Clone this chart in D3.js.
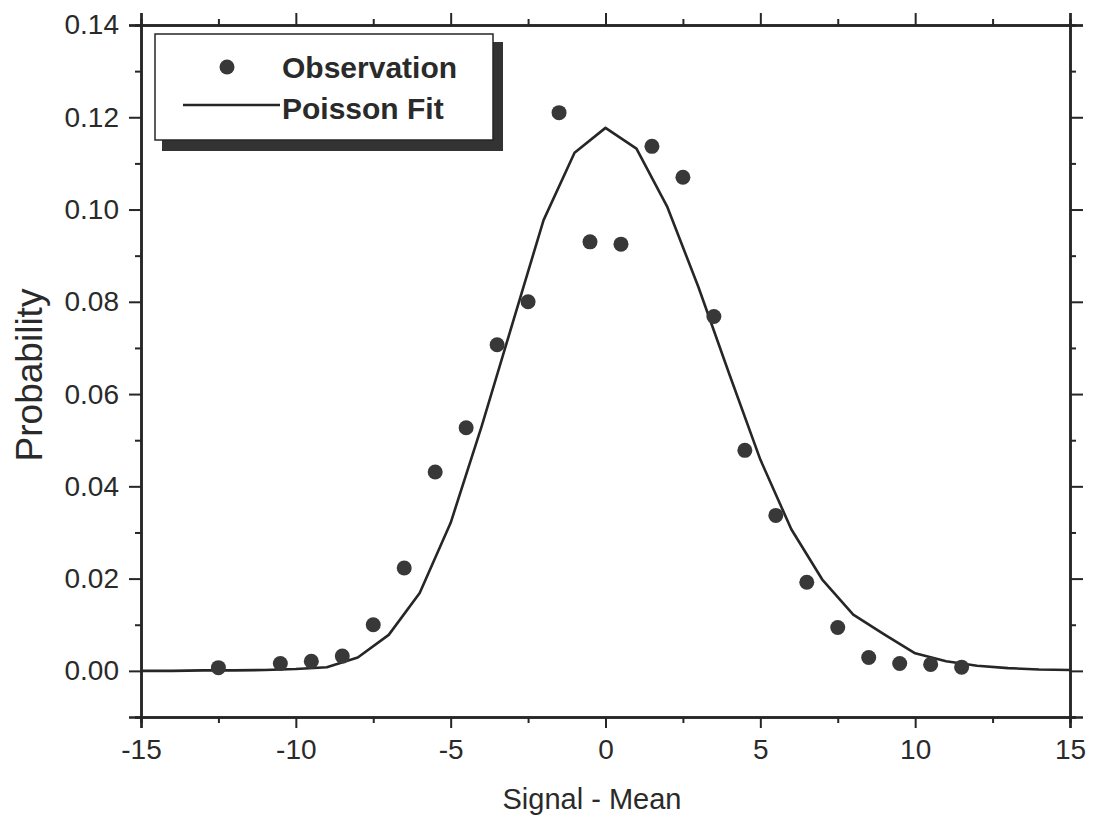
<!DOCTYPE html>
<html><head><meta charset="utf-8">
<script src="https://cdn.jsdelivr.net/npm/d3@7"></script>
<style>body{margin:0;background:#fff}svg{display:block}</style>
</head><body><svg id="c" width="1095" height="819"></svg>
<script>
// Observed probabilities
const obsX = [-12.5,-10.5,-9.5,-8.5,-7.5,-6.5,-5.5,-4.5,-3.5,-2.5,-1.5,-0.5,0.5,1.5,2.5,3.5,4.5,5.5,6.5,7.5,8.5,9.5,10.5,11.5];
const obsY = [0.0007,0.0016,0.0021,0.0032,0.0100,0.0223,0.0431,0.0527,0.0707,0.0800,0.1210,0.0930,0.0925,0.1137,0.1070,0.0768,0.0478,0.0337,0.0192,0.0094,0.0029,0.0016,0.0014,0.0008];
// Poisson fit curve
const fitX = [-15,-14,-13,-12,-11,-10,-9,-8,-7,-6,-5,-4,-3,-2,-1,0,1,2,3,4,5,6,7,8,9,10,11,12,13,14,15];
const fitY = [0,0,0.0001,0.0001,0.0002,0.0004,0.0008,0.0029,0.0078,0.0169,0.0321,0.0530,0.0754,0.0977,0.1123,0.1177,0.1132,0.1005,0.0832,0.0643,0.0458,0.0307,0.0198,0.0122,0.0079,0.0038,0.0021,0.0011,0.0006,0.0003,0.0002];
// Ticks
const xMajor = [-15,-10,-5,0,5,10,15];
const xMinor = [-12.5,-7.5,-2.5,2.5,7.5,12.5];
const yMajor = [0,0.02,0.04,0.06,0.08,0.10,0.12,0.14];
const yMinor = [-0.01,0.01,0.03,0.05,0.07,0.09,0.11,0.13];
const legendLabels = ["Observation","Poisson Fit"];

const svg = d3.select("#c");
const L=141,R=1070,T=25,B=717;
const x = d3.scaleLinear().domain([-15,15]).range([L,R]);
const y = d3.scaleLinear().domain([-0.01,0.14]).range([B,T]);
const ink = "#262626";
const font = "'Liberation Sans', Arial, sans-serif";

function styleAxis(g){
  g.select(".domain").attr("stroke",ink).attr("stroke-width",2.5);
  g.selectAll(".tick line").attr("stroke",ink).attr("stroke-width",2);
  g.selectAll(".tick text").attr("fill","#2a2a2a").style("font-family",font).style("font-size","28px");
}
// bottom
svg.append("g").attr("transform",`translate(0,${B})`)
  .call(d3.axisBottom(x).tickValues(xMinor).tickSize(6).tickFormat(""))
  .call(styleAxis);
svg.append("g").attr("transform",`translate(0,${B})`)
  .call(d3.axisBottom(x).tickValues(xMajor).tickSize(11).tickPadding(11).tickFormat(d=>String(d)))
  .call(styleAxis);
// top
svg.append("g").attr("transform",`translate(0,${T})`)
  .call(d3.axisTop(x).tickValues(xMinor).tickSize(6).tickFormat(""))
  .call(styleAxis);
svg.append("g").attr("transform",`translate(0,${T})`)
  .call(d3.axisTop(x).tickValues(xMajor).tickSize(12).tickFormat(""))
  .call(styleAxis);
// left
svg.append("g").attr("transform",`translate(${L},0)`)
  .call(d3.axisLeft(y).tickValues(yMinor).tickSize(6).tickFormat(""))
  .call(styleAxis);
svg.append("g").attr("transform",`translate(${L},0)`)
  .call(d3.axisLeft(y).tickValues(yMajor).tickSize(12).tickPadding(10).tickFormat(d3.format(".2f")))
  .call(styleAxis);
// right
svg.append("g").attr("transform",`translate(${R},0)`)
  .call(d3.axisRight(y).tickValues(yMinor).tickSize(6).tickFormat(""))
  .call(styleAxis);
svg.append("g").attr("transform",`translate(${R},0)`)
  .call(d3.axisRight(y).tickValues(yMajor).tickSize(13).tickFormat(""))
  .call(styleAxis);

// fit line
const line = d3.line().x((d,i)=>x(fitX[i])).y(d=>y(d));
svg.append("path").datum(fitY).attr("d",line)
  .attr("fill","none").attr("stroke",ink).attr("stroke-width",2.6).attr("stroke-linejoin","round");

// observations
svg.append("g").selectAll("circle").data(obsY).join("circle")
  .attr("cx",(d,i)=>x(obsX[i])).attr("cy",d=>y(d)).attr("r",7.5)
  .attr("fill","#383838");

// axis titles
svg.append("text").attr("x",592).attr("y",809).attr("text-anchor","middle")
  .style("font-family",font).style("font-size","29px").attr("fill","#2a2a2a").text("Signal - Mean");
svg.append("text").attr("transform","translate(42,375) rotate(-90)").attr("text-anchor","middle")
  .style("font-family",font).style("font-size","37px").attr("fill","#2a2a2a").text("Probability");

// legend
const lg = svg.append("g");
lg.append("rect").attr("x",162).attr("y",42).attr("width",341).attr("height",109).attr("fill","#333");
lg.append("rect").attr("x",155).attr("y",34).attr("width",338).attr("height",106)
  .attr("fill","#fff").attr("stroke",ink).attr("stroke-width",1.5);
lg.append("circle").attr("cx",227).attr("cy",67).attr("r",7.5).attr("fill","#383838");
lg.append("line").attr("x1",183).attr("x2",280).attr("y1",105).attr("y2",105).attr("stroke",ink).attr("stroke-width",2.4);
lg.selectAll("text.lg").data(legendLabels).join("text").attr("class","lg")
  .attr("x",282).attr("y",(d,i)=>i===0?78:119)
  .style("font-family",font).style("font-size","30px").style("font-weight","bold").attr("fill","#2a2a2a")
  .text(d=>d);
</script>
</body></html>
